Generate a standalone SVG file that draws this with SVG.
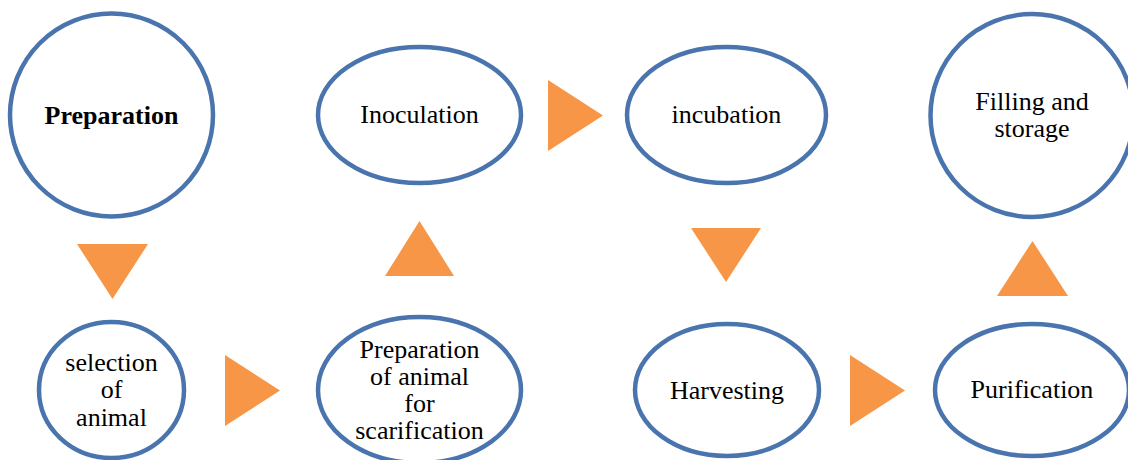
<svg xmlns="http://www.w3.org/2000/svg" width="1128" height="460" viewBox="0 0 1128 460">
<style>
.n{fill:#fff;stroke:#4a74ad;stroke-width:4.5}
text{font-family:'Liberation Serif','Times New Roman','DejaVu Serif',serif;font-size:26px;fill:#000;text-anchor:middle}
.b{font-weight:bold}
.a{fill:#f79646}
</style>
<rect width="1128" height="460" fill="#fff"/>
<g id="connectors">
<polygon class="a" points="77,244 148,244 112.5,299"/>
<polygon class="a" points="225,355 225,426 280,390.5"/>
<polygon class="a" points="385,276 454,276 419.5,221"/>
<polygon class="a" points="548,80 548,151 603,115.5"/>
<polygon class="a" points="691,228 761,228 726,282"/>
<polygon class="a" points="850,355 850,426 905,390.5"/>
<polygon class="a" points="997,296 1068,296 1032.5,241"/>
</g>
<g id="preparation">
<circle class="n" cx="111.5" cy="115" r="101.5"/>
<text class="b" x="111.5" y="124" font-family="Liberation Serif, serif">Preparation</text>
</g>
<g id="selection">
<ellipse class="n" cx="111.5" cy="390" rx="72.5" ry="68"/>
<text x="111.5" y="371" font-family="Liberation Serif, serif">selection</text>
<text x="111.5" y="398" font-family="Liberation Serif, serif">of</text>
<text x="111.5" y="426" font-family="Liberation Serif, serif">animal</text>
</g>
<g id="prep-animal">
<ellipse class="n" cx="419.5" cy="390" rx="101.5" ry="73"/>
<text x="419.5" y="358" font-family="Liberation Serif, serif">Preparation</text>
<text x="419.5" y="385" font-family="Liberation Serif, serif">of animal</text>
<text x="419.5" y="412" font-family="Liberation Serif, serif">for</text>
<text x="419.5" y="439" font-family="Liberation Serif, serif">scarification</text>
</g>
<g id="inoculation">
<ellipse class="n" cx="419.5" cy="115" rx="101.5" ry="68"/>
<text x="419.5" y="123" font-family="Liberation Serif, serif">Inoculation</text>
</g>
<g id="incubation">
<ellipse class="n" cx="726.5" cy="115" rx="99.5" ry="68"/>
<text x="726.5" y="123" font-family="Liberation Serif, serif">incubation</text>
</g>
<g id="harvesting">
<ellipse class="n" cx="727" cy="390" rx="92" ry="66"/>
<text x="727" y="399" font-family="Liberation Serif, serif">Harvesting</text>
</g>
<g id="purification">
<ellipse class="n" cx="1032" cy="390" rx="97" ry="66"/>
<text x="1032" y="398" font-family="Liberation Serif, serif">Purification</text>
</g>
<g id="filling">
<circle class="n" cx="1032" cy="115.5" r="101.5"/>
<text x="1032" y="110" font-family="Liberation Serif, serif">Filling and</text>
<text x="1032" y="137" font-family="Liberation Serif, serif">storage</text>
</g>
</svg>
